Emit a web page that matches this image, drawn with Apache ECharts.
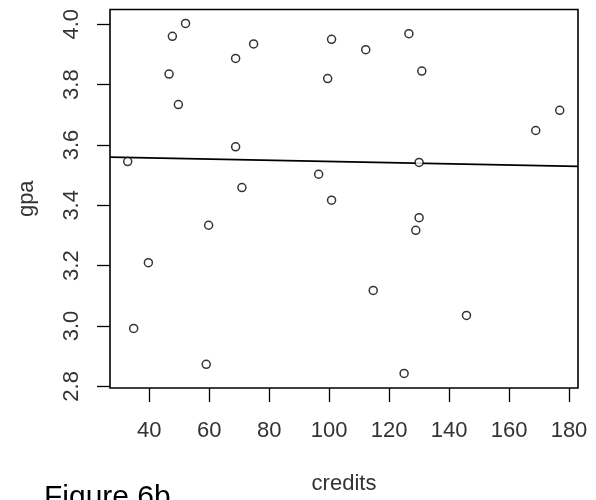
<!DOCTYPE html>
<html>
<head>
<meta charset="utf-8">
<script src="https://cdn.jsdelivr.net/npm/echarts@6/dist/echarts.min.js"></script>
<style>
html,body{margin:0;padding:0;background:#fff;}
#chart{width:596px;height:500px;}
</style>
</head>
<body>
<div id="chart"></div>
<script>
// Data
var credits = [32.8, 34.8, 39.7, 46.6, 47.7, 49.7, 52.1, 59.0, 59.8, 68.8, 68.8, 70.9, 74.8,
               96.5, 99.5, 100.8, 100.8, 112.2, 114.7, 125.0, 126.6, 128.9, 130.0, 130.0, 130.9,
               145.8, 168.9, 176.9];
var gpa = [3.545, 2.992, 3.210, 3.835, 3.960, 3.734, 4.003, 2.873, 3.334, 3.887, 3.594, 3.459, 3.935,
           3.503, 3.820, 3.950, 3.417, 3.916, 3.118, 2.843, 3.969, 3.317, 3.359, 3.542, 3.845,
           3.035, 3.648, 3.715];
// Fitted regression line endpoints
var fitCredits = [26.9, 183.0];
var fitGpa = [3.560, 3.529];
var xTicks = [40, 60, 80, 100, 120, 140, 160, 180];
var yTicks = [2.8, 3.0, 3.2, 3.4, 3.6, 3.8, 4.0];
var xName = 'credits';
var yName = 'gpa';
var figureLabel = 'Figure 6b';

var points = credits.map(function (c, i) { return [c, gpa[i]]; });
var fitLine = fitCredits.map(function (c, i) { return [c, fitGpa[i]]; });

var font = "'Liberation Sans', Arial, sans-serif";
var chart = echarts.init(document.getElementById('chart'), null, {renderer: 'canvas'});
chart.setOption({
  animation: false,
  backgroundColor: '#ffffff',
  title: {
    text: figureLabel,
    left: 44,
    top: 483,
    padding: 0,
    textStyle: {fontFamily: font, fontSize: 30, fontWeight: 'normal', color: '#000'}
  },
  grid: {
    left: 110, right: 18, top: 9.5, bottom: 112,
    show: true, borderColor: '#000', borderWidth: 1.6, backgroundColor: 'transparent'
  },
  xAxis: {
    type: 'value', min: 26.9, max: 183.0,
    name: xName, nameLocation: 'middle', nameGap: 85,
    nameTextStyle: {fontFamily: font, fontSize: 22, color: '#333'},
    axisLine: {show: false},
    splitLine: {show: false},
    axisTick: {show: true, inside: false, length: 14, customValues: xTicks,
               lineStyle: {color: '#000', width: 1.3}},
    axisLabel: {customValues: xTicks, margin: 32, fontFamily: font, fontSize: 22, color: '#333',
                formatter: function (v) { return String(v); }}
  },
  yAxis: {
    type: 'value', min: 2.7946, max: 4.049,
    name: yName, nameLocation: 'middle', nameGap: 72,
    nameTextStyle: {fontFamily: font, fontSize: 22, color: '#333'},
    axisLine: {show: false},
    splitLine: {show: false},
    axisTick: {show: true, inside: false, length: 13, customValues: yTicks,
               lineStyle: {color: '#000', width: 1.3}},
    axisLabel: {customValues: yTicks, rotate: 90, margin: 27, fontFamily: font, fontSize: 22, color: '#333',
                formatter: function (v) { return v.toFixed(1); }}
  },
  series: [
    {
      type: 'line',
      data: fitLine,
      symbol: 'none',
      lineStyle: {color: '#000', width: 1.8},
      z: 2
    },
    {
      type: 'scatter',
      data: points,
      symbol: 'circle',
      symbolSize: 8,
      itemStyle: {color: '#fff', borderColor: '#000', borderWidth: 1.5},
      z: 3
    }
  ]
});
</script>
</body>
</html>
